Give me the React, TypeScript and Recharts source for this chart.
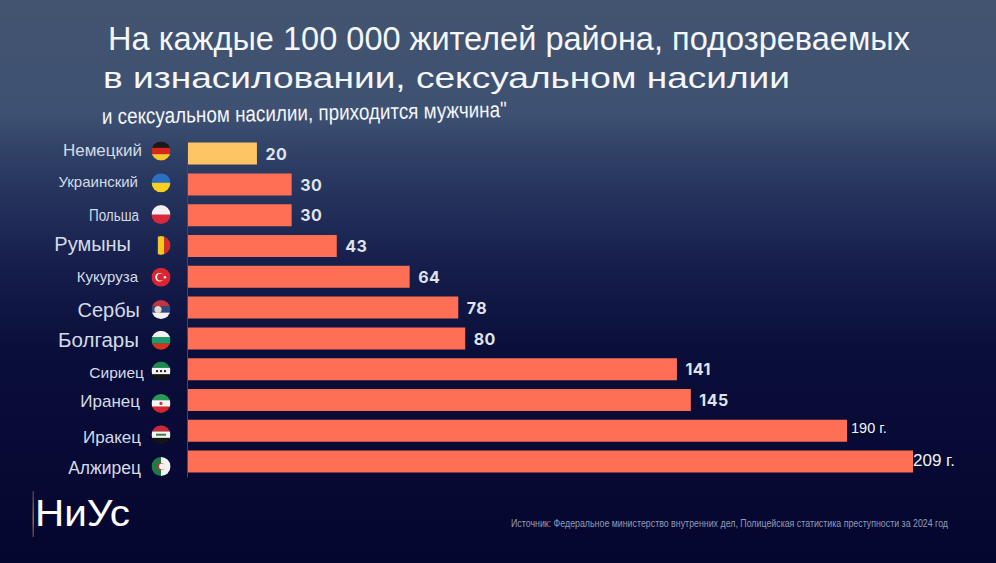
import { BarChart, Bar, XAxis, YAxis, Cell, LabelList } from 'recharts';

const nationalities = ['Немецкий', 'Украинский', 'Польша', 'Румыны', 'Кукуруза', 'Сербы', 'Болгары', 'Сириец', 'Иранец', 'Иракец', 'Алжирец'];
const rates = [20, 30, 30, 43, 64, 78, 80, 141, 145, 190, 209];
const valueLabels = ['20', '30', '30', '43', '64', '78', '80', '141', '145', '190 г.', '209 г.'];

const data = nationalities.map((name, i) => ({ name, rate: rates[i], label: valueLabels[i] }));

// the labels in the picture are not uniform: [font size, right edge, label dy, flag dy]
const tickStyles: Record<string, [number, number, number, number]> = {
  'Немецкий': [17, 142, -3.5, -3],
  'Украинский': [15, 138, -3.5, -2],
  'Польша': [16, 139, 0, -1],
  'Румыны': [20, 131, -2, -1],
  'Кукуруза': [15, 138, 0, 0],
  'Сербы': [20, 140, 1.5, 1.5],
  'Болгары': [20.5, 139, 1, 1.5],
  'Сириец': [15.5, 144, 3, 1.5],
  'Иранец': [17, 140, 1, 3],
  'Иракец': [17, 141, 5.5, 3.5],
  'Алжирец': [17.5, 141, 5.5, 4.5],
};

function Flag({ name, cx, cy }: { name: string; cx: number; cy: number }) {
  const r = 9.5;
  const x = cx - r;
  const y = cy - r;
  const d = r * 2;
  const id = `flag-${nationalities.indexOf(name)}`;
  const h = (cols: string[]) =>
    cols.map((c, i) => <rect key={i} x={x} y={y + (i * d) / cols.length} width={d} height={d / cols.length + 0.3} fill={c} />);
  const v = (cols: string[]) =>
    cols.map((c, i) => <rect key={i} x={x + (i * d) / cols.length} y={y} width={d / cols.length + 0.3} height={d} fill={c} />);
  let body: any = null;
  if (name === 'Немецкий') body = h(['#1a1a1a', '#d8261c', '#f7c62f']);
  if (name === 'Украинский') body = h(['#2a6fc0', '#f5d020']);
  if (name === 'Польша') body = h(['#f1f1f1', '#d9283c']);
  if (name === 'Румыны') body = v(['#16245c', '#f4c820', '#d42a2a']);
  if (name === 'Кукуруза')
    body = (
      <>
        <rect x={x} y={y} width={d} height={d} fill="#dc2430" />
        <circle cx={cx - 1.5} cy={cy} r={4.2} fill="#fff" />
        <circle cx={cx - 0.5} cy={cy} r={3.4} fill="#dc2430" />
        <circle cx={cx + 4} cy={cy} r={1.2} fill="#fff" />
      </>
    );
  if (name === 'Сербы')
    body = (
      <>
        {h(['#c0353f', '#2e4a86', '#f2f2f2'])}
        <circle cx={cx - 3} cy={cy} r={3.6} fill="#e5d8c8" />
      </>
    );
  if (name === 'Болгары') body = h(['#f2f2f2', '#1f9a6a', '#d6331f']);
  if (name === 'Сириец')
    body = (
      <>
        {h(['#1f8a50', '#f2f2f2', '#141414'])}
        <circle cx={cx - 4} cy={cy} r={1.2} fill="#1a1a1a" />
        <circle cx={cx} cy={cy} r={1.2} fill="#1a1a1a" />
        <circle cx={cx + 4} cy={cy} r={1.2} fill="#1a1a1a" />
      </>
    );
  if (name === 'Иранец')
    body = (
      <>
        {h(['#279a55', '#f4f4f4', '#d6282c'])}
        <circle cx={cx} cy={cy} r={1.6} fill="#c8323a" />
      </>
    );
  if (name === 'Иракец')
    body = (
      <>
        {h(['#c9283a', '#f2f2f2', '#141414'])}
        <rect x={cx - 5} y={cy - 1} width={10} height={2} fill="#3d7a4a" />
      </>
    );
  if (name === 'Алжирец')
    body = (
      <>
        {v(['#1f7a45', '#f2f2f2'])}
        <circle cx={cx} cy={cy} r={3.6} fill="#d6282c" />
        <circle cx={cx + 1} cy={cy} r={3} fill="#f2f2f2" />
      </>
    );
  return (
    <g>
      <clipPath id={id}>
        <circle cx={cx} cy={cy} r={r} />
      </clipPath>
      <g clipPath={`url(#${id})`}>{body}</g>
    </g>
  );
}

function NationTick({ y, payload }: any) {
  const [size, right, dy, flagDy] = tickStyles[payload.value];
  // Польша is squeezed in the original
  const squeeze = payload.value === 'Польша' ? { textLength: 50, lengthAdjust: 'spacingAndGlyphs' } : {};
  return (
    <g>
      <text
        x={right}
        y={y + dy}
        dy="0.35em"
        textAnchor="end"
        fontSize={size}
        fill="#d4dbe8"
        fontFamily="'Liberation Sans', Arial, sans-serif"
        {...squeeze}
      >
        {payload.value}
      </text>
      <Flag name={payload.value} cx={161} cy={y + flagDy} />
    </g>
  );
}

function ValueLabel({ x, y, width, height, value }: any) {
  const plain = !String(value).includes('г.');
  const big = value === '209 г.';
  return (
    <text
      x={x + width + (big ? 0 : plain ? 8.5 : 4)}
      y={y + height / 2 + (plain ? 0.5 : big ? -1.5 : -2.5)}
      dy="0.35em"
      fontSize={big ? 17 : plain ? 16 : 14.5}
      fontWeight={plain ? 700 : 400}
      letterSpacing={plain ? 0.5 : 0}
      fill={plain ? '#dfe3ea' : '#f0f2f6'}
      fontFamily={plain ? 'Inter, sans-serif' : "'Liberation Sans', Arial, sans-serif"}
    >
      {value}
    </text>
  );
}

export default function App() {
  return (
    <div
      style={{
        position: 'absolute',
        left: 0,
        top: 0,
        width: 996,
        height: 563,
        overflow: 'hidden',
        background: 'linear-gradient(180deg, #42546f 0%, #3e5172 20%, #2b3b62 30%, #161e4c 47%, #0a0e3a 62%, #05062f 100%)',
      }}
    >
      <BarChart
        width={996}
        height={563}
        layout="vertical"
        data={data}
        margin={{ top: 138.6, right: 83, bottom: 85.6, left: 0.5 }}
        barCategoryGap={4.4}
      >
        <XAxis type="number" domain={[0, 209]} hide />
        <YAxis
          type="category"
          dataKey="name"
          width={187}
          interval={0}
          tickLine={false}
          axisLine={{ stroke: '#3a4a68', strokeWidth: 1 }}
          tick={<NationTick />}
        />
        <Bar dataKey="rate" barSize={22} isAnimationActive={false} fill="#ff6f55">
          {data.map((d, i) => (
            <Cell key={d.name} fill={i === 0 ? '#fdc564' : '#ff6f55'} />
          ))}
          <LabelList dataKey="label" content={<ValueLabel />} />
        </Bar>
      </BarChart>
      <svg width={996} height={563} style={{ position: 'absolute', left: 0, top: 0, pointerEvents: 'none' }} fontFamily="'Liberation Sans', Arial, sans-serif">
        <defs>
          <linearGradient id="logoBar" x1="0" y1="0" x2="0" y2="1">
            <stop offset="0%" stopColor="#3a3a50" />
            <stop offset="60%" stopColor="#a8683a" />
            <stop offset="100%" stopColor="#5a3a3a" />
          </linearGradient>
        </defs>
        <text x={108} y={50} fontSize={33} fill="#f4f6fa" textLength={802} lengthAdjust="spacingAndGlyphs">
          На каждые 100 000 жителей района, подозреваемых
        </text>
        <text x={103} y={88} fontSize={30} fill="#f4f6fa" textLength={687} lengthAdjust="spacingAndGlyphs">
          в изнасиловании, сексуальном насилии
        </text>
        <text x={102} y={124} fontSize={22} fill="#f4f6fa" textLength={405} lengthAdjust="spacingAndGlyphs" transform="rotate(-1 102 124)">
          и сексуальном насилии, приходится мужчина"
        </text>
        <text x={35} y={526} fontSize={37} fill="#ffffff" textLength={95} lengthAdjust="spacingAndGlyphs">
          НиУс
        </text>
        <rect x={32.5} y={491} width={1.5} height={46} fill="url(#logoBar)" />
        <g transform="translate(511 527) scale(0.76 1)">
          <text x={0} y={0} fontSize={11} fill="#8f9db6" textLength={575} lengthAdjust="spacingAndGlyphs">
            Источник: Федеральное министерство внутренних дел, Полицейская статистика преступности за 2024 год
          </text>
        </g>
      </svg>
    </div>
  );
}
